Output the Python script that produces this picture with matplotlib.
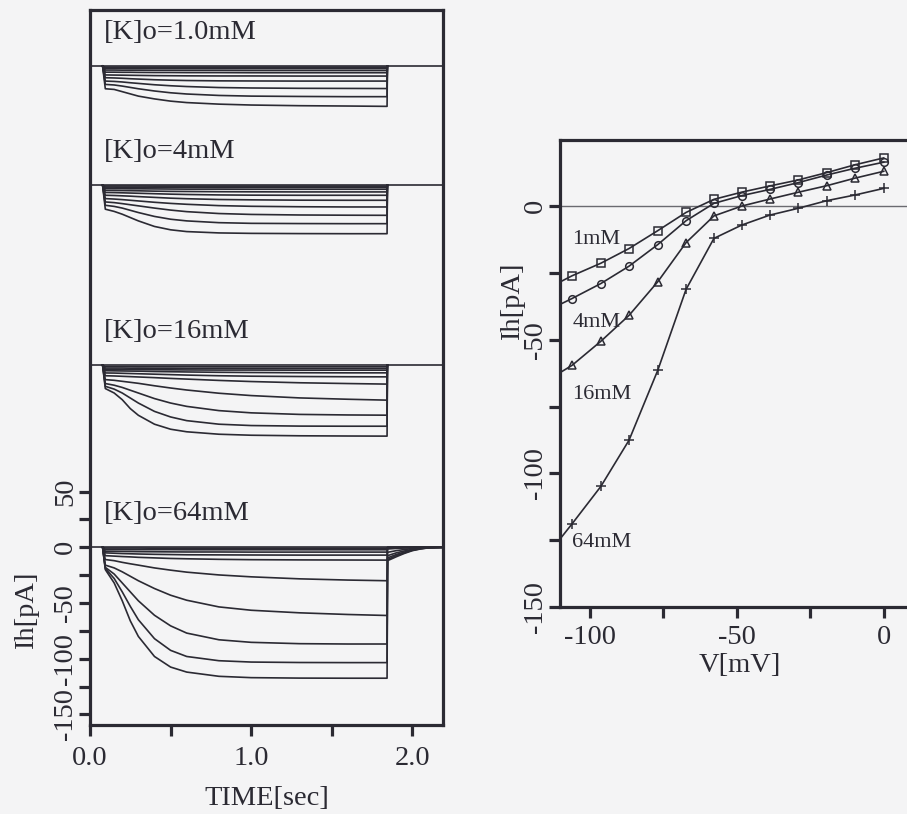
import matplotlib
matplotlib.use("Agg")
import matplotlib.pyplot as plt
from matplotlib.ticker import FixedLocator

plt.rcParams['font.family'] = ['Liberation Serif', 'DejaVu Serif']

# ---------------- data ----------------
PANEL_LABELS = ["[K]o=1.0mM", "[K]o=4mM", "[K]o=16mM", "[K]o=64mM"]
PANEL_OFFSETS = [432.0, 325.0, 163.5, 0.0]   # pA offset of each trace family

ONSET_T = 0.078
STEP_END_T = 1.843
T_GRID = [0.095, 0.15, 0.2, 0.25, 0.3, 0.4, 0.5, 0.6, 0.8, 1.0, 1.3, 1.6, 1.843]

K1_TRACES = [
    [-20.4, -21.0, -23.0, -25.0, -27.0, -29.5, -31.5, -32.8, -34.2, -35.0, -35.6, -35.9, -36.2],
    [-16.5, -17.0, -18.0, -19.2, -20.4, -22.4, -24.0, -25.1, -26.4, -27.0, -27.3, -27.5, -27.5],
    [-13.5, -13.8, -14.3, -15.0, -15.6, -16.8, -17.7, -18.4, -19.3, -19.7, -20.0, -20.1, -20.2],
    [-10.5, -10.7, -11.0, -11.4, -11.7, -12.3, -12.7, -13.0, -13.3, -13.4, -13.5, -13.5, -13.5],
    [-8.0, -8.1, -8.2, -8.3, -8.4, -8.6, -8.7, -8.8, -8.9, -8.9, -9.0, -9.0, -9.0],
    [-5.5, -5.5, -5.6, -5.6, -5.7, -5.8, -5.8, -5.9, -5.9, -6.0, -6.0, -6.0, -6.0],
    [-3.6, -3.6, -3.7, -3.7, -3.7, -3.8, -3.8, -3.9, -3.9, -4.0, -4.0, -4.0, -4.0],
    [-2.1, -2.1, -2.1, -2.2, -2.2, -2.2, -2.2, -2.3, -2.3, -2.3, -2.3, -2.3, -2.3],
    [-1.0, -1.0, -1.0, -1.0, -1.0, -1.0, -1.0, -1.0, -1.0, -1.0, -1.0, -1.0, -1.0],
]
K4_TRACES = [
    [-21.5, -23.5, -26.0, -29.0, -32.0, -37.0, -40.0, -41.6, -42.8, -43.2, -43.4, -43.5, -43.5],
    [-18.0, -19.0, -20.5, -22.5, -24.5, -28.0, -30.5, -32.0, -33.6, -34.2, -34.4, -34.5, -34.5],
    [-15.0, -15.6, -16.5, -17.5, -18.5, -20.5, -22.3, -23.7, -25.4, -26.2, -26.7, -26.9, -27.0],
    [-12.0, -12.4, -12.9, -13.5, -14.1, -15.3, -16.3, -17.1, -18.3, -18.9, -19.3, -19.5, -19.5],
    [-9.0, -9.2, -9.5, -9.8, -10.2, -10.9, -11.6, -12.1, -12.8, -13.1, -13.4, -13.5, -13.5],
    [-6.5, -6.6, -6.8, -7.0, -7.2, -7.6, -8.0, -8.3, -8.7, -8.9, -9.0, -9.0, -9.0],
    [-4.6, -4.7, -4.8, -4.9, -5.0, -5.3, -5.5, -5.6, -5.8, -5.9, -6.0, -6.0, -6.0],
    [-3.0, -3.1, -3.1, -3.2, -3.2, -3.3, -3.4, -3.5, -3.5, -3.6, -3.6, -3.6, -3.6],
    [-1.7, -1.7, -1.8, -1.8, -1.8, -1.9, -1.9, -1.9, -2.0, -2.0, -2.0, -2.0, -2.0],
    [-0.7, -0.7, -0.7, -0.7, -0.7, -0.8, -0.8, -0.8, -0.8, -0.8, -0.8, -0.8, -0.8],
]
K16_TRACES = [
    [-21.0, -25.0, -31.0, -39.0, -45.0, -53.0, -57.5, -59.8, -62.0, -62.9, -63.4, -63.6, -63.7],
    [-19.0, -21.5, -25.0, -29.5, -34.0, -41.5, -46.5, -49.8, -53.0, -54.2, -54.7, -54.8, -54.8],
    [-16.5, -18.0, -20.0, -22.5, -25.0, -30.0, -34.0, -37.0, -40.8, -42.8, -44.2, -44.7, -44.9],
    [-13.0, -13.6, -14.5, -15.4, -16.3, -18.5, -20.5, -22.3, -25.2, -27.3, -29.4, -30.6, -31.4],
    [-9.5, -9.7, -10.0, -10.3, -10.6, -11.2, -11.9, -12.5, -13.7, -14.7, -15.8, -16.5, -17.0],
    [-7.0, -7.1, -7.3, -7.5, -7.7, -8.1, -8.5, -8.9, -9.5, -9.9, -10.2, -10.4, -10.5],
    [-5.0, -5.1, -5.2, -5.3, -5.4, -5.7, -5.9, -6.1, -6.4, -6.6, -6.8, -6.9, -6.9],
    [-3.8, -3.8, -3.9, -3.9, -4.0, -4.1, -4.2, -4.3, -4.4, -4.4, -4.5, -4.5, -4.5],
    [-2.6, -2.6, -2.6, -2.7, -2.7, -2.8, -2.8, -2.9, -2.9, -3.0, -3.0, -3.0, -3.0],
    [-1.3, -1.3, -1.3, -1.3, -1.4, -1.4, -1.4, -1.4, -1.5, -1.5, -1.5, -1.5, -1.5],
]
K64_TRACES = [
    [-20.0, -32.0, -48.0, -66.0, -80.0, -98.0, -107.5, -112.0, -115.8, -117.0, -117.4, -117.5, -117.5],
    [-19.0, -28.0, -40.0, -53.0, -65.0, -82.0, -92.5, -98.0, -101.8, -103.0, -103.4, -103.5, -103.5],
    [-18.0, -24.0, -32.0, -40.0, -48.0, -61.0, -70.5, -77.0, -83.0, -85.3, -86.5, -86.8, -86.8],
    [-16.0, -18.5, -22.0, -26.0, -30.0, -37.0, -43.0, -47.5, -53.5, -56.5, -58.8, -60.3, -61.2],
    [-11.0, -12.0, -13.5, -14.8, -16.0, -18.5, -20.5, -22.3, -24.8, -26.5, -28.3, -29.4, -30.0],
    [-7.5, -7.9, -8.3, -8.6, -9.0, -9.5, -10.0, -10.3, -10.8, -11.1, -11.3, -11.4, -11.5],
    [-5.0, -5.3, -5.6, -5.8, -6.0, -6.3, -6.5, -6.7, -6.8, -6.9, -7.0, -7.0, -7.0],
    [-3.5, -3.6, -3.7, -3.8, -3.9, -4.0, -4.1, -4.2, -4.2, -4.3, -4.3, -4.3, -4.3],
    [-2.0, -2.0, -2.0, -2.1, -2.1, -2.1, -2.1, -2.2, -2.2, -2.2, -2.2, -2.2, -2.2],
    [-0.7, -0.7, -0.7, -0.7, -0.7, -0.8, -0.8, -0.8, -0.8, -0.8, -0.8, -0.8, -0.8],
]
TAIL_T = [1.846, 1.9, 1.95, 2.0, 2.05, 2.1, 2.19]
K64_TAILS = [
    [-12.0, -8.5, -5.5, -3.0, -1.5, -0.5, 0.0],
    [-11.0, -7.5, -5.0, -2.7, -1.3, -0.4, 0.0],
    [-9.5, -6.5, -4.3, -2.3, -1.1, -0.3, 0.0],
    [-7.5, -5.0, -3.3, -1.8, -0.8, -0.2, 0.0],
    [-4.5, -3.0, -2.0, -1.1, -0.5, -0.1, 0.0],
    [-1.5, -1.0, -0.6, -0.3, -0.1, 0.0, 0.0],
    [-0.6, -0.4, -0.2, -0.1, 0.0, 0.0, 0.0],
    [-0.3, -0.2, -0.1, 0.0, 0.0, 0.0, 0.0],
    [0.0, 0.0, 0.0, 0.0, 0.0, 0.0, 0.0],
    [0.0, 0.0, 0.0, 0.0, 0.0, 0.0, 0.0],
]

# I-V relation
IV_V = [-110.0, -106.1, -96.3, -86.7, -76.9, -67.3, -57.8, -48.3, -38.8, -29.3, -19.4, -9.9, 0.0]
IV_1MM = [-28.3, -26.1, -21.4, -15.9, -9.2, -2.4, 2.5, 5.2, 7.5, 9.7, 12.5, 15.4, 18.0]
IV_4MM = [-36.7, -34.6, -29.0, -22.5, -14.4, -5.5, 1.0, 3.9, 6.2, 8.7, 11.6, 14.1, 16.4]
IV_16MM = [-62.2, -59.6, -50.6, -40.9, -28.3, -13.7, -3.7, 0.0, 2.6, 5.1, 7.6, 10.4, 13.0]
IV_64MM = [-124.3, -118.9, -104.9, -87.6, -61.4, -31.2, -12.1, -7.1, -3.4, -0.9, 2.0, 4.1, 6.6]
IV_LABELS = ["1mM", "4mM", "16mM", "64mM"]
IV_LABEL_POS = [(-106.0, -12.7), (-106.0, -43.5), (-106.0, -70.5), (-106.0, -126.0)]

# ---------------- style ----------------
W, H = 907, 814
BG = "#f4f4f5"
INK = "#2b2a33"
FS = 20.5

fig = plt.figure(figsize=(W / 100, H / 100), dpi=100, facecolor=BG)


def px_axes(l, t, r, b):
    return fig.add_axes([l / W, 1 - b / H, (r - l) / W, (b - t) / H])


def style_axes(ax):
    ax.set_facecolor("none")
    for s in ax.spines.values():
        s.set_linewidth(2.3)
        s.set_color(INK)
    ax.tick_params(which="both", direction="out", length=8, width=2.3,
                   color=INK, labelcolor=INK, labelsize=FS)


# ---- left: current traces ----
ax = px_axes(90, 10, 443, 725)
style_axes(ax)
ax.set_xlim(0, 2.19)
ax.set_ylim(-159.5, 482.3)

families = [K1_TRACES, K4_TRACES, K16_TRACES, K64_TRACES]
for fi, (traces, off, lab) in enumerate(zip(families, PANEL_OFFSETS, PANEL_LABELS)):
    ax.axhline(off, color=INK, lw=1.2)
    for ti, tr in enumerate(traces):
        tt = [ONSET_T] + T_GRID
        yy = [0.0] + tr
        if fi == 3:
            tt = tt + TAIL_T
            yy = yy + K64_TAILS[ti]
        else:
            tt = tt + [STEP_END_T + 0.002]
            yy = yy + [0.0]
        ax.plot(tt, [v + off for v in yy], color=INK, lw=1.2)
    ax.text(0.083, off + 30, lab, fontsize=FS, color=INK, va="center", ha="left")

ax.yaxis.set_major_locator(FixedLocator([-150, -100, -50, 0, 50]))
ax.yaxis.set_minor_locator(FixedLocator([-125, -75, -25, 25]))
ax.xaxis.set_major_locator(FixedLocator([0, 1, 2]))
ax.xaxis.set_minor_locator(FixedLocator([0.5, 1.5]))
ax.set_xticklabels(["0.0", "1.0", "2.0"])
ax.set_yticklabels(["-150", "-100", "-50", "0", "50"], rotation=90, va="center")
ax.tick_params(axis="x", pad=7)
ax.tick_params(axis="y", pad=0.5)
ax.set_xlabel("TIME[sec]", fontsize=FS, color=INK, labelpad=11)
ax.set_ylabel("Ih[pA]", fontsize=FS, color=INK)
ax.yaxis.set_label_coords(-0.145, 0.161)

# ---- right: I-V ----
ax2 = px_axes(560, 140, 919, 607)
style_axes(ax2)
ax2.set_xlim(-110.2, 12.0)
ax2.set_ylim(-150, 24.7)
ax2.axhline(0, color="#6a6a70", lw=1.0)

series = [(IV_1MM, "s"), (IV_4MM, "o"), (IV_16MM, "^"), (IV_64MM, "+")]
for vals, mk in series:
    ax2.plot(IV_V, vals, color=INK, lw=1.2, marker=mk, markersize=5.5 if mk != "+" else 6.5,
             markerfacecolor="none", markeredgecolor=INK, markeredgewidth=1.1,
             markevery=list(range(1, len(IV_V))))
for lab, (x, y) in zip(IV_LABELS, IV_LABEL_POS):
    ax2.text(x, y, lab, fontsize=16, color=INK, ha="left", va="center")

ax2.xaxis.set_major_locator(FixedLocator([-100, -50, 0]))
ax2.xaxis.set_minor_locator(FixedLocator([-75, -25]))
ax2.yaxis.set_major_locator(FixedLocator([-150, -100, -50, 0]))
ax2.yaxis.set_minor_locator(FixedLocator([-125, -75, -25]))
ax2.set_xticklabels(["-100", "-50", "0"])
ax2.set_yticklabels(["-150", "-100", "-50", "0"], rotation=90, va="center")
ax2.tick_params(axis="x", pad=5)
ax2.tick_params(axis="y", pad=0.5)
ax2.set_xlabel("V[mV]", fontsize=FS, color=INK, labelpad=2)
ax2.set_ylabel("Ih[pA]", fontsize=FS, color=INK)
ax2.yaxis.set_label_coords(-0.098, 0.655)

fig.savefig("out.png", dpi=100, facecolor=BG)
